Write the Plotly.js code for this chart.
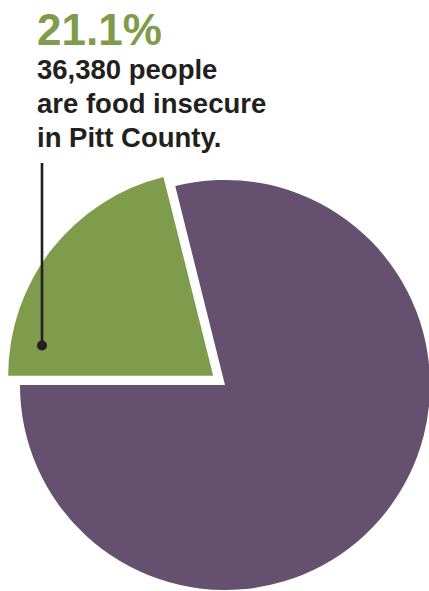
<!DOCTYPE html>
<html>
<head>
<meta charset="utf-8">
<script src="https://cdn.plot.ly/plotly-3.0.1.min.js"></script>
<style>
html,body{margin:0;padding:0;background:#fff;overflow:hidden;width:429px;height:591px;}
#chart{width:450px;height:620px;}
</style>
</head>
<body>
<div id="chart"></div>
<script>
// Data
const categories = ["Food insecure", "Food secure"];
const shares = [21.1, 78.9];
const headline = "21.1%";
const noteLines = ["36,380 people", "are food insecure", "in Pitt County."];

// Styling
const W = 450, H = 620;
const green = "#7F9B4C", purple = "#65516F", ink = "#231F20";
const fx = x => x / W;
const fy = y => 1 - y / H;

const trace = {
  type: "pie",
  labels: categories,
  values: shares,
  sort: false,
  direction: "clockwise",
  rotation: -90,
  pull: [0.073, 0],
  marker: {colors: [green, purple], line: {width: 0}},
  textinfo: "none",
  hoverinfo: "none",
  showlegend: false,
  domain: {x: [0, 1], y: [15 / H, 455 / H]}
};

const fontFam = "'Liberation Sans', Arial, sans-serif";
const annotations = [{
  xref: "paper", yref: "paper", x: fx(36), y: fy(29.5),
  xanchor: "left", yanchor: "middle", showarrow: false, borderpad: 0,
  text: "<b>" + headline + "</b>",
  font: {family: fontFam, size: 44, color: green}
}];
noteLines.forEach((t, i) => {
  annotations.push({
    xref: "paper", yref: "paper", x: fx(36), y: fy(69.5 + i * 34),
    xanchor: "left", yanchor: "middle", showarrow: false, borderpad: 0,
    text: "<b>" + t + "</b>",
    font: {family: fontFam, size: 27.5, color: ink}
  });
});

const shapes = [
  {type: "line", xref: "paper", yref: "paper",
   x0: fx(42), x1: fx(42), y0: fy(163), y1: fy(345),
   line: {color: ink, width: 2.6}},
  {type: "circle", xref: "paper", yref: "paper",
   x0: fx(37), x1: fx(47), y0: fy(340.5), y1: fy(350.5),
   fillcolor: ink, line: {width: 0}}
];

Plotly.newPlot("chart", [trace], {
  width: W, height: H,
  margin: {l: 0, r: 0, t: 0, b: 0},
  paper_bgcolor: "#fff",
  annotations: annotations,
  shapes: shapes
}, {staticPlot: true});
</script>
</body>
</html>
